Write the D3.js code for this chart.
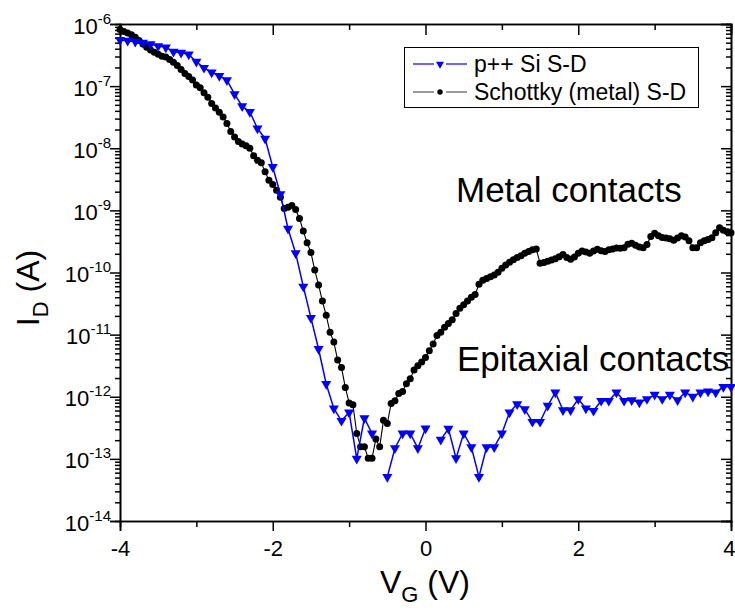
<!DOCTYPE html>
<html>
<head>
<meta charset="utf-8">
<script src="https://cdn.jsdelivr.net/npm/d3@7"></script>
<style>
  html, body { margin: 0; padding: 0; background: #fff; }
  svg { display: block; font-family: "Liberation Sans", Arial, sans-serif; }
</style>
</head>
<body>
<svg id="chart" width="735" height="614"></svg>
<script>
// ---------------- DATA ----------------
// Gate voltage sweeps (V)
const vgStart = -4, vgEnd = 4;
const pppStep = 0.1;      // p++ Si S-D sweep step
const schottkyStep = 0.05; // Schottky S-D sweep step

// p++ Si S-D : log10(I_D / A), one value per 0.1 V from -4 to 4 (null = missing)
const pppLogI = [
  -6.258,-6.269,-6.285,-6.302,-6.323,-6.355,-6.376,-6.447,-6.463,-6.489,
  -6.608,-6.705,-6.779,-6.834,-6.903,-7.129,-7.323,-7.415,-7.682,-7.844,
  -8.302,-8.74,-9.295,-9.689,-10.226,-10.731,-11.231,-11.795,-12.188,-12.387,
  -12.253,-12.995,-12.344,-12.592,null,-13.29,-12.828,-12.592,-12.592,-12.828,
  -12.51,null,-12.69,-12.515,-12.99,-12.59,-12.81,-13.29,-12.81,-12.81,
  -12.59,-12.253,-12.118,-12.2,-12.403,-12.403,-12.145,-11.93,-12.215,-12.215,
  -12.037,-12.188,-12.226,-12.065,-12.065,-11.93,-12.065,-12.054,-12.09,-12.037,
  -11.968,-12.037,-11.968,-12.054,-11.93,-12.0,-11.93,-11.914,-11.93,-11.84,
  -11.84
];

// Schottky (metal) S-D : log10(I_D / A), one value per 0.05 V from -4 to 4
const schottkyLogI = [
  -6.09,-6.12,-6.145,-6.175,-6.215,-6.265,-6.32,-6.376,-6.42,-6.455,
  -6.485,-6.518,-6.533,-6.57,-6.615,-6.67,-6.732,-6.795,-6.845,-6.9,
  -6.98,-7.027,-7.105,-7.18,-7.28,-7.352,-7.42,-7.497,-7.6,-7.73,
  -7.82,-7.89,-7.93,-7.96,-8.0,-8.12,-8.195,-8.235,-8.38,-8.515,
  -8.585,-8.675,-8.79,-8.97,-8.95,-8.92,-8.985,-9.13,-9.334,-9.52,
  -9.68,-9.96,-10.2,-10.46,-10.69,-10.963,-11.12,-11.41,-11.53,-11.85,
  -12.1,-12.13,-12.59,-12.806,-12.806,-12.989,-12.989,-12.682,-12.806,-12.38,
  -12.431,-12.108,-12.065,-11.947,-11.915,-11.79,-11.71,-11.57,-11.5,-11.44,
  -11.37,-11.26,-11.15,-11.016,-10.963,-10.88,-10.82,-10.76,-10.66,-10.575,
  -10.52,-10.46,-10.40,-10.353,-10.19,-10.125,-10.095,-10.07,-10.04,-9.997,
  -9.93,-9.88,-9.835,-9.795,-9.76,-9.732,-9.69,-9.662,-9.635,-9.62,
  -9.85,-9.84,-9.82,-9.8,-9.778,-9.748,-9.71,-9.76,-9.785,-9.75,
  -9.69,-9.655,-9.67,-9.69,-9.655,-9.625,-9.65,-9.66,-9.634,-9.62,
  -9.605,-9.61,-9.6,-9.545,-9.53,-9.56,-9.59,-9.6,-9.55,-9.42,
  -9.37,-9.41,-9.435,-9.445,-9.456,-9.482,-9.445,-9.41,-9.43,-9.49,
  -9.6,-9.602,-9.52,-9.488,-9.47,-9.44,-9.36,-9.28,-9.32,-9.345,
  -9.36
];

const xMajorTicks = [-4, -2, 0, 2, 4];
const xMinorTicks = [-3, -1, 1, 3];
const yDecadeExps = [-14, -13, -12, -11, -10, -9, -8, -7, -6];
const seriesNames = ["p++ Si S-D", "Schottky (metal) S-D"];
const annotations = ["Metal contacts", "Epitaxial contacts"];

// ---------------- BUILD ----------------
const toSeries = (arr, step) => arr.map((v, i) => ({
  vg: +(vgStart + i * step).toFixed(3),
  i: v == null ? null : Math.pow(10, v)
}));
const ppp = toSeries(pppLogI, pppStep);
const sch = toSeries(schottkyLogI, schottkyStep);

const svg = d3.select("#chart");
const L = 120, R = 731, T = 24, B = 521;

const x = d3.scaleLinear().domain([vgStart, vgEnd]).range([L, R]);
const y = d3.scaleLog().domain([1e-14, 1e-6]).range([B, T]);

const yMajor = yDecadeExps.map(e => Math.pow(10, e));
const yMinor = [];
yDecadeExps.slice(0, -1).forEach(e => {
  for (let m = 2; m <= 9; m++) yMinor.push(m * Math.pow(10, e));
});

const axisStyle = g => {
  g.select(".domain").attr("stroke", "#000").attr("stroke-width", 1.6);
  g.selectAll(".tick line").attr("stroke", "#000").attr("stroke-width", 1.5);
};

// bottom
svg.append("g").attr("transform", `translate(0,${B})`)
  .call(d3.axisBottom(x).tickValues(xMinorTicks).tickSize(6).tickFormat(""))
  .call(axisStyle);
const gB = svg.append("g").attr("transform", `translate(0,${B})`)
  .call(d3.axisBottom(x).tickValues(xMajorTicks).tickSize(10).tickPadding(9)
        .tickFormat(d3.format("d")))
  .call(axisStyle);
gB.selectAll("text").attr("font-size", 22).attr("fill", "#000")
  .attr("font-family", "Liberation Sans, Arial, sans-serif")
  .attr("text-anchor", d => d === vgEnd ? "end" : "middle")
  .attr("x", d => d === vgEnd ? 4 : 0)
  .text(d => d < 0 ? "-" + Math.abs(d) : String(d));

// top
svg.append("g").attr("transform", `translate(0,${T})`)
  .call(d3.axisTop(x).tickValues(xMinorTicks).tickSize(-6).tickFormat(""))
  .call(axisStyle);
svg.append("g").attr("transform", `translate(0,${T})`)
  .call(d3.axisTop(x).tickValues(xMajorTicks).tickSize(-11).tickFormat(""))
  .call(axisStyle);

// left
svg.append("g").attr("transform", `translate(${L},0)`)
  .call(d3.axisLeft(y).tickValues(yMinor).tickSize(5).tickFormat(""))
  .call(axisStyle);
const gL = svg.append("g").attr("transform", `translate(${L},0)`)
  .call(d3.axisLeft(y).tickValues(yMajor).tickSize(10).tickFormat(""))
  .call(axisStyle);
gL.selectAll(".tick").each(function(d) {
  const e = Math.round(Math.log10(d));
  const t = d3.select(this).append("text")
    .attr("x", -9).attr("y", 9)
    .attr("text-anchor", "end")
    .attr("fill", "#000")
    .attr("font-size", 22)
    .attr("font-family", "Liberation Sans, Arial, sans-serif");
  t.append("tspan").text("10");
  t.append("tspan").attr("font-size", 15).attr("dy", -10).text(String(e));
});

// right
svg.append("g").attr("transform", `translate(${R},0)`)
  .call(d3.axisRight(y).tickValues(yMinor).tickSize(-5).tickFormat(""))
  .call(axisStyle);
svg.append("g").attr("transform", `translate(${R},0)`)
  .call(d3.axisRight(y).tickValues(yMajor).tickSize(-10).tickFormat(""))
  .call(axisStyle);

// lines
const line = d3.line().defined(d => d.i != null).x(d => x(d.vg)).y(d => y(d.i));

svg.append("path").datum(sch).attr("d", line)
  .attr("fill", "none").attr("stroke", "#000").attr("stroke-width", 1.1);
svg.append("g").selectAll("circle").data(sch).join("circle")
  .attr("cx", d => x(d.vg)).attr("cy", d => y(d.i)).attr("r", 3.5).attr("fill", "#000");

svg.append("path").datum(ppp).attr("d", line)
  .attr("fill", "none").attr("stroke", "#0000ff").attr("stroke-width", 1.5);
const tri = d3.symbol().type(d3.symbolTriangle).size(44);
svg.append("g").selectAll("path").data(ppp.filter(d => d.i != null)).join("path")
  .attr("d", tri)
  .attr("transform", d => `translate(${x(d.vg)},${y(d.i)}) rotate(180)`)
  .attr("fill", "#0000ff");

// legend
const lg = svg.append("g");
lg.append("rect").attr("x", 404.5).attr("y", 47.5).attr("width", 294).attr("height", 60)
  .attr("fill", "#fff").attr("stroke", "#000").attr("stroke-width", 1);
const rows = [
  { name: seriesNames[0], y: 64, color: "#0000ff", sym: "tri" },
  { name: seriesNames[1], y: 92, color: "#000", sym: "circ" }
];
rows.forEach(r => {
  const lc = r.sym === "tri" ? "#0000ff" : "#555";
  lg.append("line").attr("x1", 413).attr("x2", 434).attr("y1", r.y).attr("y2", r.y)
    .attr("stroke", lc).attr("stroke-width", 1.2);
  lg.append("line").attr("x1", 446).attr("x2", 467).attr("y1", r.y).attr("y2", r.y)
    .attr("stroke", lc).attr("stroke-width", 1.2);
  if (r.sym === "tri") {
    lg.append("path").attr("d", d3.symbol().type(d3.symbolTriangle).size(28))
      .attr("transform", `translate(440,${r.y}) rotate(180)`).attr("fill", r.color);
  } else {
    lg.append("circle").attr("cx", 440).attr("cy", r.y).attr("r", 2.7).attr("fill", "#000");
  }
  lg.append("text").attr("x", 474).attr("y", r.y + 8).attr("font-size", 23)
    .attr("fill", "#000").text(r.name);
});

// annotations
svg.append("text").attr("x", 456).attr("y", 202).attr("font-size", 35)
  .attr("fill", "#000").text(annotations[0]);
svg.append("text").attr("x", 457).attr("y", 371).attr("font-size", 35)
  .attr("fill", "#000").text(annotations[1]);

// axis titles
const xt = svg.append("text").attr("x", 425).attr("y", 593).attr("text-anchor", "middle")
  .attr("font-size", 32).attr("fill", "#000");
xt.append("tspan").text("V");
xt.append("tspan").attr("font-size", 22).attr("dy", 9).text("G");
xt.append("tspan").attr("dy", -9).text(" (V)");

const yt = svg.append("text").attr("transform", "translate(39,288) rotate(-90)")
  .attr("text-anchor", "middle").attr("font-size", 32).attr("fill", "#000");
yt.append("tspan").text("I");
yt.append("tspan").attr("font-size", 22).attr("dy", 9).text("D");
yt.append("tspan").attr("dy", -9).text(" (A)");
</script>
</body>
</html>
